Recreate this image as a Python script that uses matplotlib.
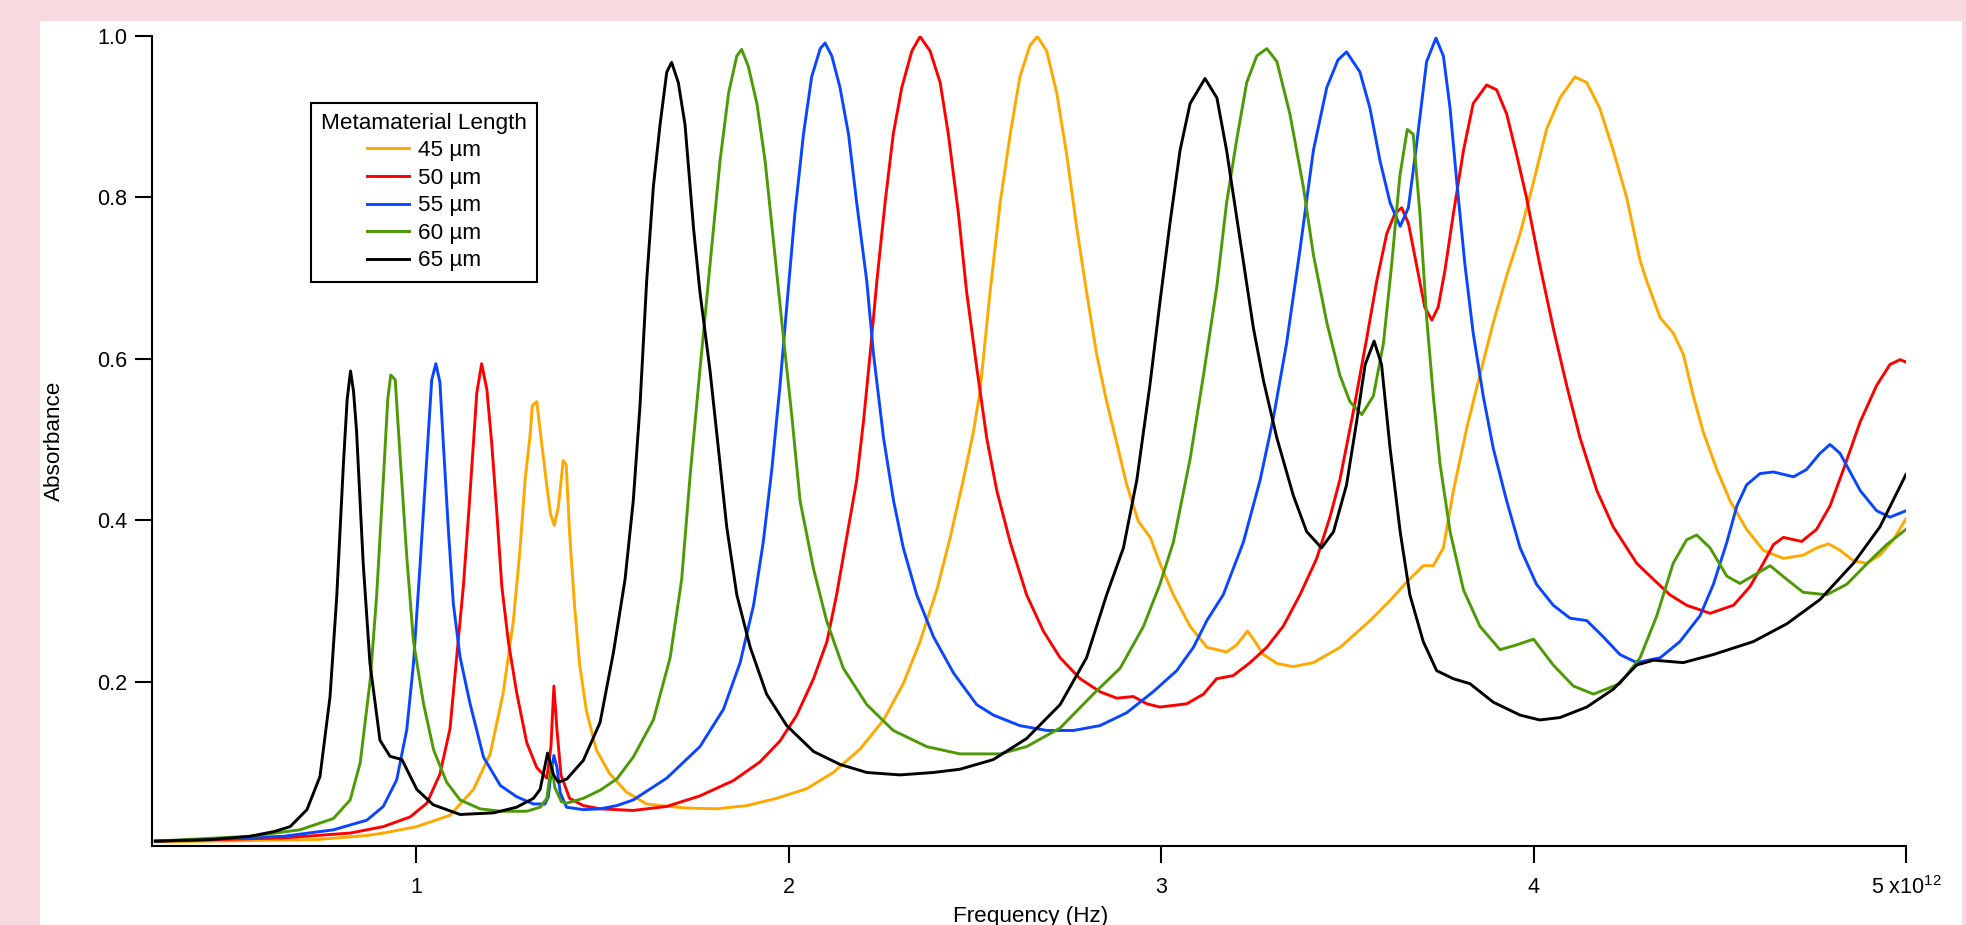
# ============================================================
# Absorbance spectra for five metamaterial lengths
# ============================================================

import numpy as np
import matplotlib
matplotlib.use("Agg")
import matplotlib.pyplot as plt
from matplotlib.patches import Rectangle


# ============================================================
# 1. DATA (frequency in THz)
# ============================================================

labels = ["45 µm", "50 µm", "55 µm", "60 µm", "65 µm"]
colors = ["#FFA800", "#FF0000", "#0A46FF", "#4E9A06", "#000000"]

freq_45 = [0.30, 0.733, 0.868, 0.912, 1.002, 1.091, 1.154, 1.199, 1.234, 1.261, 1.279, 1.293, 1.306, 1.312,
           1.324, 1.337, 1.351, 1.361, 1.371, 1.382, 1.395, 1.403, 1.412, 1.425, 1.439, 1.457, 1.484, 1.519,
           1.564, 1.619, 1.655, 1.727, 1.807, 1.888, 1.968, 2.049, 2.120, 2.192, 2.255, 2.308, 2.353, 2.398,
           2.434, 2.469, 2.496, 2.514, 2.541, 2.568, 2.595, 2.621, 2.648, 2.668, 2.693, 2.720, 2.747, 2.774,
           2.800, 2.827, 2.854, 2.881, 2.908, 2.939, 2.971, 2.997, 3.033, 3.078, 3.123, 3.176, 3.203, 3.232,
           3.248, 3.275, 3.311, 3.355, 3.409, 3.481, 3.561, 3.615, 3.660, 3.704, 3.731, 3.758, 3.785, 3.821,
           3.856, 3.892, 3.928, 3.964, 4.000, 4.035, 4.071, 4.111, 4.143, 4.178, 4.214, 4.250, 4.286, 4.304,
           4.340, 4.375, 4.402, 4.429, 4.456, 4.492, 4.528, 4.572, 4.617, 4.671, 4.724, 4.760, 4.792, 4.823,
           4.859, 4.894, 4.930, 4.966, 5.000]
abs_45 = [0.002, 0.005, 0.010, 0.013, 0.021, 0.035, 0.067, 0.111, 0.187, 0.275, 0.364, 0.452, 0.505, 0.542,
          0.547, 0.496, 0.443, 0.408, 0.394, 0.417, 0.474, 0.469, 0.385, 0.297, 0.222, 0.165, 0.116, 0.087,
          0.064, 0.049, 0.047, 0.044, 0.043, 0.047, 0.056, 0.068, 0.088, 0.117, 0.153, 0.198, 0.250, 0.314,
          0.379, 0.450, 0.509, 0.560, 0.683, 0.793, 0.878, 0.949, 0.988, 0.999, 0.981, 0.929, 0.852, 0.761,
          0.683, 0.606, 0.547, 0.496, 0.444, 0.399, 0.379, 0.347, 0.308, 0.269, 0.243, 0.237, 0.246, 0.263,
          0.253, 0.234, 0.223, 0.219, 0.224, 0.243, 0.276, 0.301, 0.324, 0.344, 0.344, 0.366, 0.437, 0.515,
          0.580, 0.645, 0.703, 0.755, 0.819, 0.884, 0.923, 0.949, 0.942, 0.910, 0.858, 0.800, 0.722, 0.696,
          0.651, 0.632, 0.606, 0.554, 0.509, 0.463, 0.424, 0.389, 0.363, 0.353, 0.357, 0.366, 0.371, 0.363,
          0.350, 0.347, 0.357, 0.376, 0.402]

freq_50 = [0.30, 0.644, 0.823, 0.912, 0.984, 1.029, 1.064, 1.091, 1.109, 1.127, 1.141, 1.154, 1.163, 1.176,
           1.190, 1.203, 1.217, 1.230, 1.248, 1.270, 1.297, 1.324, 1.351, 1.362, 1.370, 1.378, 1.389, 1.412,
           1.449, 1.494, 1.583, 1.673, 1.762, 1.852, 1.923, 1.977, 2.022, 2.067, 2.103, 2.129, 2.156, 2.183,
           2.201, 2.219, 2.237, 2.259, 2.281, 2.304, 2.331, 2.353, 2.380, 2.407, 2.429, 2.456, 2.478, 2.505,
           2.532, 2.559, 2.595, 2.639, 2.684, 2.729, 2.783, 2.836, 2.881, 2.926, 2.962, 2.997, 3.069, 3.114,
           3.149, 3.194, 3.239, 3.284, 3.328, 3.373, 3.418, 3.454, 3.480, 3.516, 3.552, 3.579, 3.606, 3.628,
           3.646, 3.664, 3.686, 3.708, 3.727, 3.744, 3.762, 3.785, 3.812, 3.838, 3.874, 3.901, 3.928, 3.955,
           3.981, 4.017, 4.053, 4.089, 4.125, 4.170, 4.214, 4.277, 4.322, 4.366, 4.411, 4.474, 4.537, 4.581,
           4.617, 4.644, 4.671, 4.720, 4.760, 4.796, 4.832, 4.877, 4.921, 4.957, 4.984, 5.000]
abs_50 = [0.003, 0.007, 0.013, 0.021, 0.033, 0.050, 0.086, 0.142, 0.231, 0.319, 0.408, 0.496, 0.558, 0.594,
          0.562, 0.496, 0.408, 0.319, 0.249, 0.187, 0.125, 0.094, 0.081, 0.120, 0.195, 0.142, 0.085, 0.056,
          0.047, 0.043, 0.041, 0.046, 0.059, 0.078, 0.101, 0.127, 0.159, 0.204, 0.250, 0.308, 0.379, 0.450,
          0.522, 0.606, 0.696, 0.793, 0.878, 0.936, 0.981, 0.999, 0.981, 0.942, 0.878, 0.780, 0.683, 0.590,
          0.502, 0.437, 0.373, 0.308, 0.263, 0.230, 0.204, 0.188, 0.180, 0.182, 0.173, 0.169, 0.173, 0.185,
          0.204, 0.208, 0.224, 0.243, 0.269, 0.308, 0.353, 0.405, 0.450, 0.534, 0.625, 0.696, 0.755, 0.780,
          0.787, 0.768, 0.716, 0.664, 0.648, 0.664, 0.709, 0.780, 0.858, 0.916, 0.939, 0.933, 0.903, 0.852,
          0.800, 0.716, 0.638, 0.567, 0.502, 0.437, 0.392, 0.347, 0.327, 0.308, 0.295, 0.285, 0.295, 0.318,
          0.347, 0.370, 0.379, 0.374, 0.389, 0.418, 0.463, 0.522, 0.567, 0.593, 0.599, 0.596]

freq_55 = [0.30, 0.644, 0.778, 0.868, 0.912, 0.948, 0.975, 0.993, 1.011, 1.029, 1.042, 1.053, 1.064, 1.073,
           1.087, 1.100, 1.118, 1.145, 1.181, 1.226, 1.270, 1.315, 1.346, 1.355, 1.363, 1.370, 1.378, 1.387,
           1.404, 1.449, 1.494, 1.539, 1.583, 1.673, 1.762, 1.825, 1.870, 1.906, 1.932, 1.955, 1.977, 1.995,
           2.017, 2.040, 2.062, 2.085, 2.098, 2.116, 2.138, 2.161, 2.183, 2.210, 2.228, 2.255, 2.282, 2.308,
           2.344, 2.389, 2.443, 2.505, 2.550, 2.621, 2.693, 2.765, 2.836, 2.908, 2.979, 3.042, 3.087, 3.123,
           3.167, 3.221, 3.266, 3.302, 3.337, 3.373, 3.409, 3.445, 3.475, 3.498, 3.534, 3.561, 3.588, 3.615,
           3.642, 3.664, 3.686, 3.713, 3.738, 3.758, 3.776, 3.794, 3.816, 3.838, 3.865, 3.892, 3.928, 3.964,
           4.008, 4.053, 4.098, 4.143, 4.187, 4.232, 4.277, 4.340, 4.393, 4.447, 4.483, 4.519, 4.546, 4.572,
           4.608, 4.644, 4.698, 4.733, 4.769, 4.796, 4.823, 4.877, 4.921, 4.957, 5.000]
abs_55 = [0.003, 0.009, 0.017, 0.029, 0.046, 0.079, 0.141, 0.223, 0.347, 0.479, 0.574, 0.594, 0.571, 0.496,
          0.386, 0.297, 0.231, 0.173, 0.107, 0.072, 0.058, 0.049, 0.049, 0.058, 0.090, 0.109, 0.095, 0.063,
          0.045, 0.042, 0.043, 0.047, 0.054, 0.081, 0.120, 0.166, 0.224, 0.295, 0.373, 0.463, 0.567, 0.664,
          0.780, 0.878, 0.949, 0.984, 0.991, 0.975, 0.936, 0.878, 0.793, 0.696, 0.606, 0.502, 0.424, 0.366,
          0.308, 0.256, 0.211, 0.172, 0.159, 0.146, 0.140, 0.140, 0.146, 0.162, 0.188, 0.214, 0.243, 0.276,
          0.308, 0.373, 0.450, 0.528, 0.619, 0.735, 0.858, 0.936, 0.970, 0.980, 0.955, 0.910, 0.845, 0.793,
          0.764, 0.787, 0.865, 0.968, 0.997, 0.975, 0.910, 0.819, 0.716, 0.632, 0.554, 0.489, 0.424, 0.366,
          0.321, 0.295, 0.279, 0.276, 0.256, 0.234, 0.224, 0.230, 0.250, 0.282, 0.321, 0.373, 0.418, 0.444,
          0.458, 0.460, 0.454, 0.463, 0.483, 0.494, 0.483, 0.437, 0.412, 0.404, 0.412]

freq_60 = [0.30, 0.554, 0.688, 0.778, 0.823, 0.850, 0.877, 0.894, 0.912, 0.924, 0.932, 0.944, 0.957, 0.975,
           0.993, 1.020, 1.047, 1.082, 1.118, 1.172, 1.226, 1.297, 1.333, 1.351, 1.358, 1.364, 1.372, 1.390,
           1.404, 1.449, 1.494, 1.539, 1.583, 1.637, 1.682, 1.713, 1.736, 1.762, 1.789, 1.816, 1.839, 1.861,
           1.874, 1.892, 1.915, 1.937, 1.959, 1.982, 2.009, 2.031, 2.067, 2.102, 2.147, 2.210, 2.281, 2.371,
           2.460, 2.568, 2.639, 2.729, 2.818, 2.890, 2.953, 2.997, 3.033, 3.078, 3.114, 3.150, 3.176, 3.203,
           3.230, 3.257, 3.284, 3.311, 3.346, 3.382, 3.409, 3.445, 3.480, 3.507, 3.539, 3.570, 3.597, 3.619,
           3.641, 3.661, 3.677, 3.695, 3.713, 3.731, 3.749, 3.776, 3.812, 3.856, 3.910, 3.955, 4.000, 4.053,
           4.107, 4.161, 4.232, 4.286, 4.331, 4.375, 4.411, 4.438, 4.474, 4.519, 4.554, 4.599, 4.635, 4.680,
           4.724, 4.787, 4.841, 4.903, 4.948, 5.000]
abs_60 = [0.003, 0.009, 0.017, 0.031, 0.054, 0.100, 0.203, 0.306, 0.450, 0.550, 0.580, 0.574, 0.480, 0.355,
          0.250, 0.173, 0.116, 0.076, 0.054, 0.043, 0.040, 0.040, 0.045, 0.056, 0.080, 0.098, 0.070, 0.052,
          0.050, 0.056, 0.066, 0.080, 0.107, 0.153, 0.230, 0.327, 0.457, 0.586, 0.716, 0.845, 0.929, 0.975,
          0.983, 0.962, 0.916, 0.845, 0.748, 0.645, 0.528, 0.424, 0.340, 0.276, 0.217, 0.172, 0.140, 0.120,
          0.111, 0.111, 0.120, 0.143, 0.185, 0.217, 0.269, 0.321, 0.373, 0.476, 0.580, 0.690, 0.793, 0.871,
          0.942, 0.975, 0.984, 0.968, 0.903, 0.813, 0.729, 0.645, 0.580, 0.547, 0.531, 0.554, 0.619, 0.716,
          0.826, 0.884, 0.878, 0.780, 0.651, 0.554, 0.470, 0.386, 0.314, 0.269, 0.240, 0.246, 0.253, 0.221,
          0.195, 0.185, 0.198, 0.230, 0.282, 0.347, 0.376, 0.382, 0.366, 0.331, 0.322, 0.334, 0.344, 0.327,
          0.311, 0.308, 0.321, 0.350, 0.370, 0.389]

freq_65 = [0.30, 0.45, 0.554, 0.62, 0.662, 0.707, 0.742, 0.769, 0.787, 0.805, 0.815, 0.824, 0.832, 0.840,
           0.858, 0.876, 0.903, 0.930, 0.962, 1.002, 1.046, 1.118, 1.208, 1.270, 1.315, 1.333, 1.353, 1.369,
           1.382, 1.405, 1.449, 1.494, 1.530, 1.561, 1.583, 1.601, 1.619, 1.637, 1.655, 1.673, 1.686, 1.704,
           1.722, 1.745, 1.762, 1.789, 1.816, 1.834, 1.861, 1.897, 1.941, 1.995, 2.067, 2.138, 2.210, 2.299,
           2.389, 2.460, 2.550, 2.639, 2.729, 2.800, 2.854, 2.899, 2.935, 2.970, 2.997, 3.024, 3.051, 3.078,
           3.118, 3.150, 3.176, 3.212, 3.248, 3.275, 3.311, 3.355, 3.391, 3.431, 3.463, 3.498, 3.525, 3.548,
           3.572, 3.592, 3.615, 3.642, 3.668, 3.704, 3.740, 3.785, 3.829, 3.892, 3.964, 4.017, 4.071, 4.143,
           4.214, 4.277, 4.322, 4.402, 4.483, 4.590, 4.680, 4.769, 4.859, 4.930, 5.000]
abs_65 = [0.003, 0.005, 0.009, 0.015, 0.021, 0.042, 0.083, 0.182, 0.306, 0.471, 0.550, 0.585, 0.560, 0.512,
          0.347, 0.224, 0.128, 0.108, 0.104, 0.067, 0.048, 0.036, 0.038, 0.045, 0.056, 0.067, 0.112, 0.085,
          0.076, 0.080, 0.103, 0.150, 0.237, 0.327, 0.424, 0.541, 0.696, 0.813, 0.890, 0.955, 0.967, 0.942,
          0.890, 0.761, 0.683, 0.586, 0.470, 0.392, 0.308, 0.243, 0.185, 0.146, 0.114, 0.098, 0.088, 0.085,
          0.088, 0.092, 0.104, 0.130, 0.172, 0.230, 0.308, 0.366, 0.450, 0.567, 0.670, 0.768, 0.858, 0.916,
          0.947, 0.923, 0.858, 0.748, 0.638, 0.573, 0.502, 0.431, 0.386, 0.366, 0.386, 0.444, 0.522, 0.593,
          0.622, 0.593, 0.489, 0.386, 0.308, 0.250, 0.214, 0.204, 0.198, 0.175, 0.159, 0.153, 0.156, 0.169,
          0.191, 0.221, 0.227, 0.224, 0.234, 0.250, 0.272, 0.302, 0.347, 0.392, 0.457]

x_ticks = [1, 2, 3, 4, 5]
x_tick_labels = ["1", "2", "3", "4", "5 x10$^{12}$"]
y_ticks = [0.2, 0.4, 0.6, 0.8, 1.0]

series = [(freq_45, abs_45), (freq_50, abs_50), (freq_55, abs_55), (freq_60, abs_60), (freq_65, abs_65)]


# ============================================================
# 2. FIGURE: pink border with a white panel
# ============================================================

plt.rcParams['font.family'] = ['Liberation Sans', 'DejaVu Sans']
plt.rcParams['mathtext.fontset'] = 'custom'
plt.rcParams['mathtext.rm'] = 'Liberation Sans'

W, H = 1966, 925
fig = plt.figure(figsize=(W / 100, H / 100), dpi=100, facecolor="#F8D9DF")
# white panel drawn below everything else
fig.patches.append(Rectangle((40 / W, 0), (1962 - 40) / W, (H - 21) / H,
                             transform=fig.transFigure, facecolor="white", edgecolor="none", zorder=-10))

left, right, top, bottom = 152, 1906, 35.7, 846
ax = fig.add_axes([left / W, 1 - bottom / H, (right - left) / W, (bottom - top) / H])
ax.set_facecolor("none")


# ============================================================
# 3. CURVES
# ============================================================

for (f, a), lab, col in zip(series, labels, colors):
    ax.plot(np.array(f) * 1e12, a, color=col, lw=2.1, label=lab)

ax.set_xlim(0.291e12, 5.0e12)
ax.set_ylim(-0.003, 1.0)

ax.set_xticks([t * 1e12 for t in x_ticks])
ax.set_xticklabels(x_tick_labels)
ax.set_yticks(y_ticks)
ax.set_yticklabels([f"{t:.1f}" for t in y_ticks])

for side in ["top", "right"]:
    ax.spines[side].set_visible(False)
for side in ["left", "bottom"]:
    ax.spines[side].set_linewidth(1.5)

ax.tick_params(axis="both", direction="out", length=12, width=1.5, labelsize=15.5)
ax.tick_params(axis="x", pad=10)
ax.tick_params(axis="y", pad=6)

fig.text(54 / W, 1 - 441 / H, "Absorbance", rotation=90, ha="center", va="center", fontsize=16.2)
fig.text(1031 / W, 1 - 906 / H, "Frequency (Hz)", ha="center", va="top", fontsize=16.2)


# ============================================================
# 4. LEGEND
# ============================================================

leg = ax.legend(title="Metamaterial Length", loc="upper left",
                bbox_to_anchor=((310.7 - left) / (right - left), (bottom - 102.7) / (bottom - top)),
                borderaxespad=0, fancybox=False, framealpha=1, edgecolor="black",
                fontsize=16.2, title_fontsize=16.2, handlelength=1.87, handletextpad=0.4,
                labelspacing=0.29, borderpad=0.45)
leg.get_frame().set_linewidth(1.5)

plt.savefig("out.png", dpi=100, facecolor=fig.get_facecolor())
